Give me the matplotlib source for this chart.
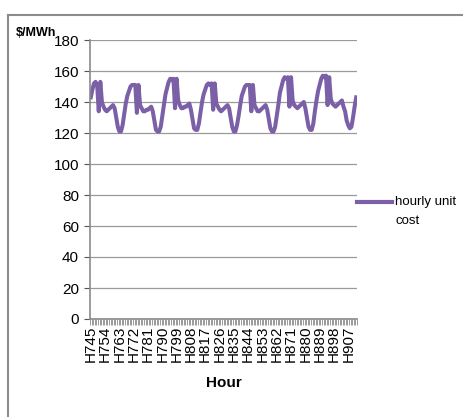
import numpy as np
import matplotlib.pyplot as plt
from matplotlib.lines import Line2D
from matplotlib.ticker import MultipleLocator

plt.rcParams['font.family'] = ['Liberation Sans', 'DejaVu Sans']

# hourly unit cost, one list per day (24 h each), H745 .. H912
day1 = [143, 148, 152, 153, 151, 134, 153, 140, 137, 135, 134, 135, 136, 137, 138, 136, 130, 124, 121, 121, 125, 132, 139, 144]
day2 = [147, 150, 151, 151, 151, 133, 151, 138, 136, 134, 134, 135, 135, 136, 137, 134, 128, 122, 121, 121, 124, 131, 138, 145]
day3 = [149, 153, 155, 154, 155, 136, 155, 141, 138, 136, 136, 137, 137, 138, 139, 135, 129, 123, 122, 122, 126, 133, 140, 145]
day4 = [148, 151, 152, 151, 152, 135, 152, 139, 137, 135, 134, 135, 136, 137, 138, 136, 130, 124, 121, 121, 125, 131, 138, 144]
day5 = [147, 150, 151, 151, 151, 134, 151, 138, 136, 134, 134, 135, 136, 137, 138, 135, 129, 123, 121, 121, 124, 131, 138, 146]
day6 = [150, 154, 156, 155, 156, 137, 156, 141, 138, 137, 136, 137, 138, 139, 140, 136, 130, 124, 122, 122, 126, 134, 141, 147]
day7 = [151, 155, 157, 156, 157, 138, 156, 142, 139, 138, 137, 138, 139, 140, 141, 137, 134, 128, 125, 123, 124, 130, 137, 143]

first_hour = 745
cost = day1 + day2 + day3 + day4 + day5 + day6 + day7
hours = ['H%d' % (first_hour + i) for i in range(len(cost))]
label_step = 9
purple = '#7b60a8'

W, H = 464, 417
fig = plt.figure(figsize=(W / 100, H / 100), dpi=100)
ax = fig.add_axes([90 / W, 1 - 319 / H, (357 - 90) / W, (319 - 40) / H])

x = np.arange(len(cost))
ax.plot(x, cost, color=purple, lw=2.9, solid_joinstyle='round')

ax.set_xlim(-0.5, len(cost) - 0.5)
ax.set_ylim(0, 180)
ax.yaxis.set_major_locator(MultipleLocator(20))
ax.grid(axis='y', color='#9a9a9a', lw=0.9)
ax.set_axisbelow(True)

ax.set_xticks(x[::label_step])
ax.set_xticklabels(hours[::label_step], rotation=90, fontsize=11)
ax.set_xticks(np.arange(len(cost) + 1) - 0.5, minor=True)
ax.tick_params(axis='x', which='major', length=0, pad=5)
ax.tick_params(axis='x', which='minor', length=4, color='#8a8a8a', width=0.6)
ax.tick_params(axis='y', length=4, color='#555555', labelsize=11, pad=4)

for s in ['top', 'right']:
    ax.spines[s].set_visible(False)
for s in ['left', 'bottom']:
    ax.spines[s].set_color('#8a8a8a')
    ax.spines[s].set_linewidth(1.2)

fig.text(224 / W, 1 - 383 / H, 'Hour', fontsize=11, fontweight='bold', ha='center', va='center')
fig.text(16 / W, 1 - 33 / H, '$/MWh', fontsize=9, fontweight='bold', va='center')

# legend (Excel style: line aligned with the first text line)
fig.add_artist(Line2D([357 / W, 392 / W], [1 - 202 / H, 1 - 202 / H], color=purple, lw=3))
fig.text(395 / W, 1 - 202 / H, 'hourly unit', fontsize=9.5, va='center')
fig.text(395 / W, 1 - 221 / H, 'cost', fontsize=9.5, va='center')

# chart area border
fig.add_artist(Line2D([8 / W, 8 / W], [0, 1 - 15 / H], color='#8c8c8c', lw=1.5))
fig.add_artist(Line2D([8 / W, 1], [1 - 15 / H, 1 - 15 / H], color='#8c8c8c', lw=1.5))

fig.savefig('out.png', dpi=100)
